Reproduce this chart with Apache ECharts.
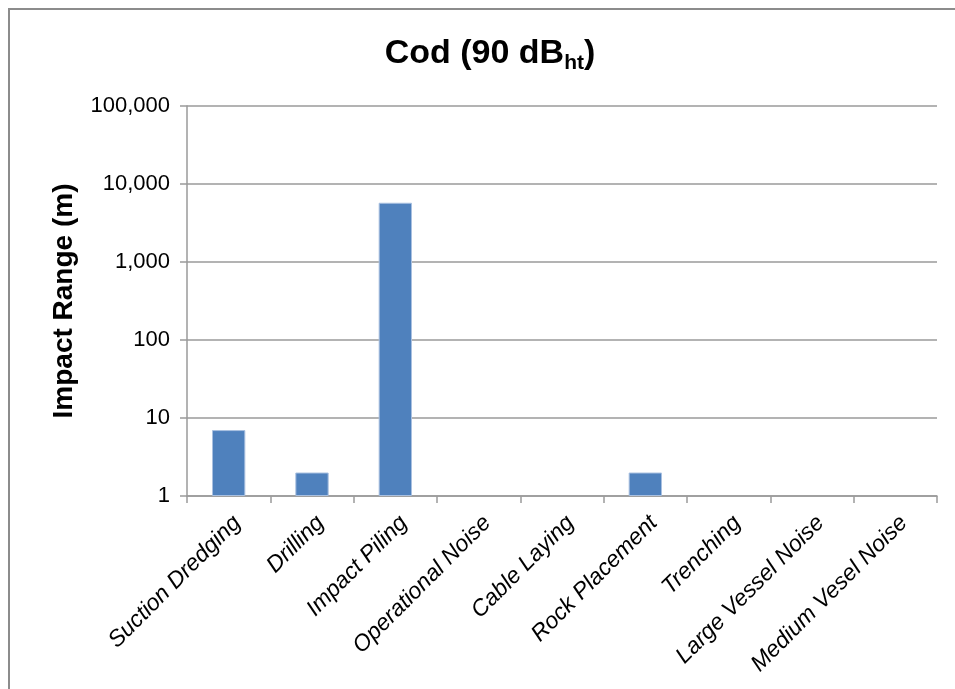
<!DOCTYPE html>
<html>
<head>
<meta charset="utf-8">
<script src="https://cdn.jsdelivr.net/npm/echarts@6/dist/echarts.min.js"></script>
<style>
  html, body { margin: 0; padding: 0; background: #fff; }
  #wrap { position: relative; width: 955px; height: 689px; }
  #chart { position: absolute; left: 0; top: 0; width: 955px; height: 689px; }
  /* chart-area frame along the top and left edges */
  #frame { position: absolute; left: 8px; top: 8px; right: 0; bottom: 0;
           border-left: 2px solid #8c8c8c; border-top: 2px solid #8c8c8c;
           pointer-events: none; }
</style>
</head>
<body>
<div id="wrap">
  <div id="chart"></div>
  <div id="frame"></div>
</div>
<script>
// Activities and their modelled impact range for cod at 90 dBht (metres)
const categories = [
  'Suction Dredging', 'Drilling', 'Impact Piling', 'Operational Noise',
  'Cable Laying', 'Rock Placement', 'Trenching', 'Large Vessel Noise',
  'Medium Vesel Noise'
];
const impactRange = [7, 2, 5750, null, null, 2, null, null, null];

// Log-axis bounds
const yMin = 1;
const yMax = 100000;

const chart = echarts.init(document.getElementById('chart'), null, { renderer: 'canvas' });

const font = '"Liberation Sans", Arial, Helvetica, sans-serif';
const gridColor = '#9a9a9a';

chart.setOption({
  animation: false,
  backgroundColor: '#ffffff',
  title: {
    text: '{a|Cod (90 dB}{s|ht}{a|)}',
    left: 485,
    textAlign: 'center',
    top: 29,
    textStyle: {
      rich: {
        a: { fontFamily: font, fontSize: 34, fontWeight: 'bold', color: '#000',
             lineHeight: 40, verticalAlign: 'middle' },
        s: { fontFamily: font, fontSize: 21, fontWeight: 'bold', color: '#000',
             lineHeight: 21, padding: [18, 0, 0, 0], verticalAlign: 'bottom' }
      }
    }
  },
  grid: { left: 187, right: 18, top: 106, bottom: 193, containLabel: false },
  xAxis: {
    type: 'category',
    data: categories,
    boundaryGap: true,
    axisLine: { show: true, lineStyle: { color: gridColor, width: 1.5 } },
    axisTick: { show: true, alignWithLabel: false, length: 7,
                lineStyle: { color: gridColor, width: 1.5 } },
    axisLabel: {
      interval: 0,
      rotate: 45,
      margin: 32,
      padding: [0, -12, 0, 0],
      fontFamily: font,
      fontSize: 23,
      fontStyle: 'italic',
      color: '#000'
    },
    splitLine: { show: false }
  },
  yAxis: {
    type: 'log',
    logBase: 10,
    min: yMin,
    max: yMax,
    name: 'Impact Range (m)',
    nameLocation: 'middle',
    nameGap: 109,
    nameTextStyle: { fontFamily: font, fontSize: 28, fontWeight: 'bold', color: '#000' },
    axisLine: { show: true, lineStyle: { color: gridColor, width: 1.5 } },
    axisTick: { show: true, length: 7, lineStyle: { color: gridColor, width: 1.5 } },
    axisLabel: {
      margin: 17,
      fontFamily: font,
      fontSize: 22,
      color: '#000',
      formatter: v => Number(v).toLocaleString('en-US')
    },
    splitLine: { show: true, lineStyle: { color: gridColor, width: 1.5 } },
    minorTick: { show: false }
  },
  series: [{
    type: 'bar',
    data: impactRange,
    barWidth: '40%',
    itemStyle: { color: '#4f81bd', borderColor: '#a9c0e0', borderWidth: 1 }
  }]
});
</script>
</body>
</html>
